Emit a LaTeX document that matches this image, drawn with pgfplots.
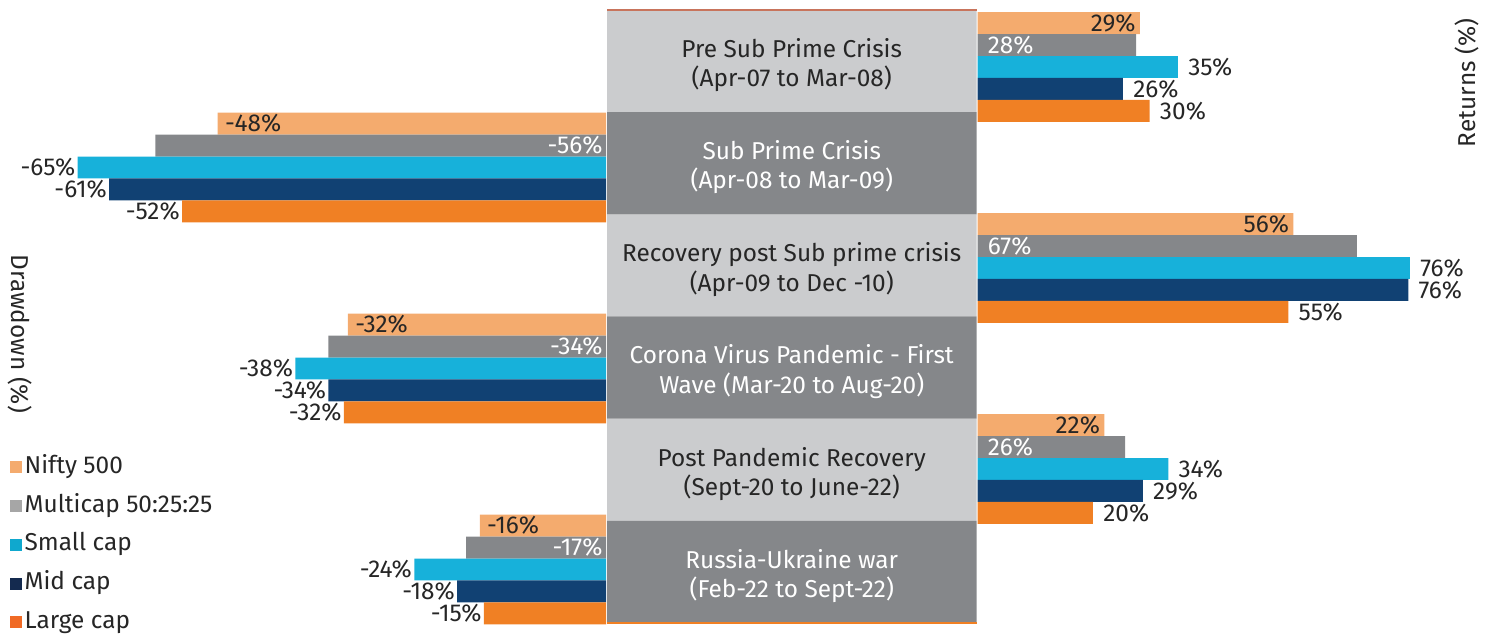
\documentclass[border=0pt]{standalone}
\usepackage{pgfplots}
\pgfplotsset{compat=1.18}
\usepackage{pgfplotstable}
\usepackage{fontspec}
\setmainfont{Fira Sans}

\definecolor{nifty}{HTML}{F4AB6E}
\definecolor{multi}{HTML}{85878A}
\definecolor{small}{HTML}{17B1DA}
\definecolor{mid}{HTML}{114173}
\definecolor{large}{HTML}{F08024}
\definecolor{boxlight}{HTML}{CBCCCE}
\definecolor{boxdark}{HTML}{85878A}
\definecolor{tdark}{HTML}{262626}
\definecolor{legnifty}{HTML}{F4AB6E}
\definecolor{legmulti}{HTML}{A6A6A6}
\definecolor{legsmall}{HTML}{0FA8CE}
\definecolor{legmid}{HTML}{142A4F}
\definecolor{leglarge}{HTML}{F06A25}
\definecolor{edgeline}{HTML}{C8745C}

% Returns (right side): category, bar values, labels
\pgfplotstableread{
cat nifty multi small mid large nL mL sL dL lL
1 28.7 28.0 35.4 25.7 30.4 29 28 35 26 30
3 55.8 67.0 76.4 76.1 54.9 56 67 76 76 55
5 22.4 26.1 33.7 29.2 20.4 22 26 34 29 20
}\rightdata

% Drawdowns (left side)
\pgfplotstableread{
cat nifty multi small mid large nL mL sL dL lL
2 -48.0 -55.7 -65.3 -61.4 -52.4 -48 -56 -65 -61 -52
4 -31.9 -34.3 -38.4 -34.3 -32.4 -32 -34 -38 -34 -32
6 -15.6 -17.3 -23.7 -18.4 -15.1 -16 -17 -24 -18 -15
}\leftdata

\pgfplotsset{
  base/.style={scale only axis, hide axis, clip=false, y dir=reverse,
    height=317.5pt, anchor=south west},
  side/.style={base, ymin=0.3333, ymax=6.6517, xbar, bar width=0.218, bar shift=0pt},
  lab/.style={nodes near coords={\pgfplotspointmeta\%}, point meta=explicit symbolic},
}

\begin{document}
\begin{tikzpicture}[font=\fontsize{12.2pt}{14.6pt}\selectfont]
\path[use as bounding box] (0pt,0pt) rectangle (747pt,317.5pt);

% ---------- left: drawdowns ----------
\begin{axis}[side, at={(0pt,0pt)}, width=303pt, xmin=-74.9, xmax=0,
  legend image code/.code={\fill[#1] (0pt,-2.75pt) rectangle (5.5pt,2.75pt);},
  legend style={at={(0.0165,0.2835)}, anchor=north west, draw=none, fill=none,
    inner sep=0pt, row sep=7.35pt, cells={anchor=west},
    nodes={inner sep=1pt, inner xsep=1.2pt, text=tdark, text height=8pt, text depth=2pt}},
  ]
\addplot[fill=nifty, draw=none, forget plot, lab,
  every node near coord/.append style={anchor=west, text=tdark, inner sep=1pt, xshift=2.5pt}]
  table[x=nifty, y expr=\thisrow{cat}-0.436, meta=nL] {\leftdata};
\addplot[fill=multi, draw=none, forget plot]
  table[x=multi, y expr=\thisrow{cat}-0.218] {\leftdata};
\addplot[draw=none, fill=none, forget plot, lab,
  every node near coord/.append style={anchor=east, text=white, inner sep=1pt, xshift=-0.5pt}]
  table[x expr=0, y expr=\thisrow{cat}-0.218, meta=mL] {\leftdata};
\addplot[fill=small, draw=none, forget plot, lab,
  every node near coord/.append style={anchor=east, text=tdark, inner sep=1pt}]
  table[x=small, y expr=\thisrow{cat}, meta=sL] {\leftdata};
\addplot[fill=mid, draw=none, forget plot, lab,
  every node near coord/.append style={anchor=east, text=tdark, inner sep=1pt}]
  table[x=mid, y expr=\thisrow{cat}+0.218, meta=dL] {\leftdata};
\addplot[fill=large, draw=none, forget plot, lab,
  every node near coord/.append style={anchor=east, text=tdark, inner sep=1pt}]
  table[x=large, y expr=\thisrow{cat}+0.436, meta=lL] {\leftdata};
\addlegendimage{legnifty}\addlegendentry{Nifty 500}
\addlegendimage{legmulti}\addlegendentry{Multicap 50:25:25}
\addlegendimage{legsmall}\addlegendentry{Small cap}
\addlegendimage{legmid}\addlegendentry{Mid cap}
\addlegendimage{leglarge}\addlegendentry{Large cap}
\end{axis}

% ---------- middle: period boxes ----------
\begin{axis}[base, at={(303.5pt,0pt)}, width=184.75pt, xmin=0, xmax=1,
  ymin=0.4021, ymax=6.6175, xbar, bar width=1, bar shift=0pt]
\addplot[fill=boxlight, draw=none] coordinates {(1,1) (1,3) (1,5)};
\addplot[fill=boxdark, draw=none] coordinates {(1,2) (1,4) (1,6)};
\draw[edgeline, line width=0.7pt] (axis cs:0,0.5) -- (axis cs:1,0.5);
\draw[large, line width=0.7pt] (axis cs:0,6.5) -- (axis cs:1,6.5);
\node[align=center, text=tdark] at (axis cs:0.5,1.04) {Pre Sub Prime Crisis\\(Apr-07 to Mar-08)};
\node[align=center, text=white] at (axis cs:0.5,2.04) {Sub Prime Crisis\\(Apr-08 to Mar-09)};
\node[align=center, text=tdark] at (axis cs:0.5,3.04) {Recovery post Sub prime crisis\\(Apr-09 to Dec -10)};
\node[align=center, text=white] at (axis cs:0.5,4.04) {Corona Virus Pandemic - First\\Wave (Mar-20 to Aug-20)};
\node[align=center, text=tdark] at (axis cs:0.5,5.04) {Post Pandemic Recovery\\(Sept-20 to June-22)};
\node[align=center, text=white] at (axis cs:0.5,6.04) {Russia-Ukraine war\\(Feb-22 to Sept-22)};
\end{axis}

% ---------- right: returns ----------
\begin{axis}[side, at={(488.75pt,0pt)}, width=258.25pt, xmin=0, xmax=91.25]
\addplot[fill=nifty, draw=none, lab,
  every node near coord/.append style={anchor=east, text=tdark, inner sep=1pt, xshift=-1pt}]
  table[x=nifty, y expr=\thisrow{cat}-0.436, meta=nL] {\rightdata};
\addplot[fill=multi, draw=none]
  table[x=multi, y expr=\thisrow{cat}-0.218] {\rightdata};
\addplot[draw=none, fill=none, lab,
  every node near coord/.append style={anchor=west, text=white, inner sep=1pt, xshift=4pt}]
  table[x expr=0, y expr=\thisrow{cat}-0.218, meta=mL] {\rightdata};
\addplot[fill=small, draw=none, lab,
  every node near coord/.append style={anchor=west, text=tdark, inner sep=1pt, xshift=4pt}]
  table[x=small, y expr=\thisrow{cat}, meta=sL] {\rightdata};
\addplot[fill=mid, draw=none, lab,
  every node near coord/.append style={anchor=west, text=tdark, inner sep=1pt, xshift=4pt}]
  table[x=mid, y expr=\thisrow{cat}+0.218, meta=dL] {\rightdata};
\addplot[fill=large, draw=none, lab,
  every node near coord/.append style={anchor=west, text=tdark, inner sep=1pt, xshift=4pt}]
  table[x=large, y expr=\thisrow{cat}+0.436, meta=lL] {\rightdata};
\end{axis}

\node[rotate=90, text=tdark] at (733.5pt,276pt) {Returns (\%)};
\node[rotate=-90, text=tdark] at (10pt,150.5pt) {Drawdown (\%)};
\end{tikzpicture}
\end{document}
